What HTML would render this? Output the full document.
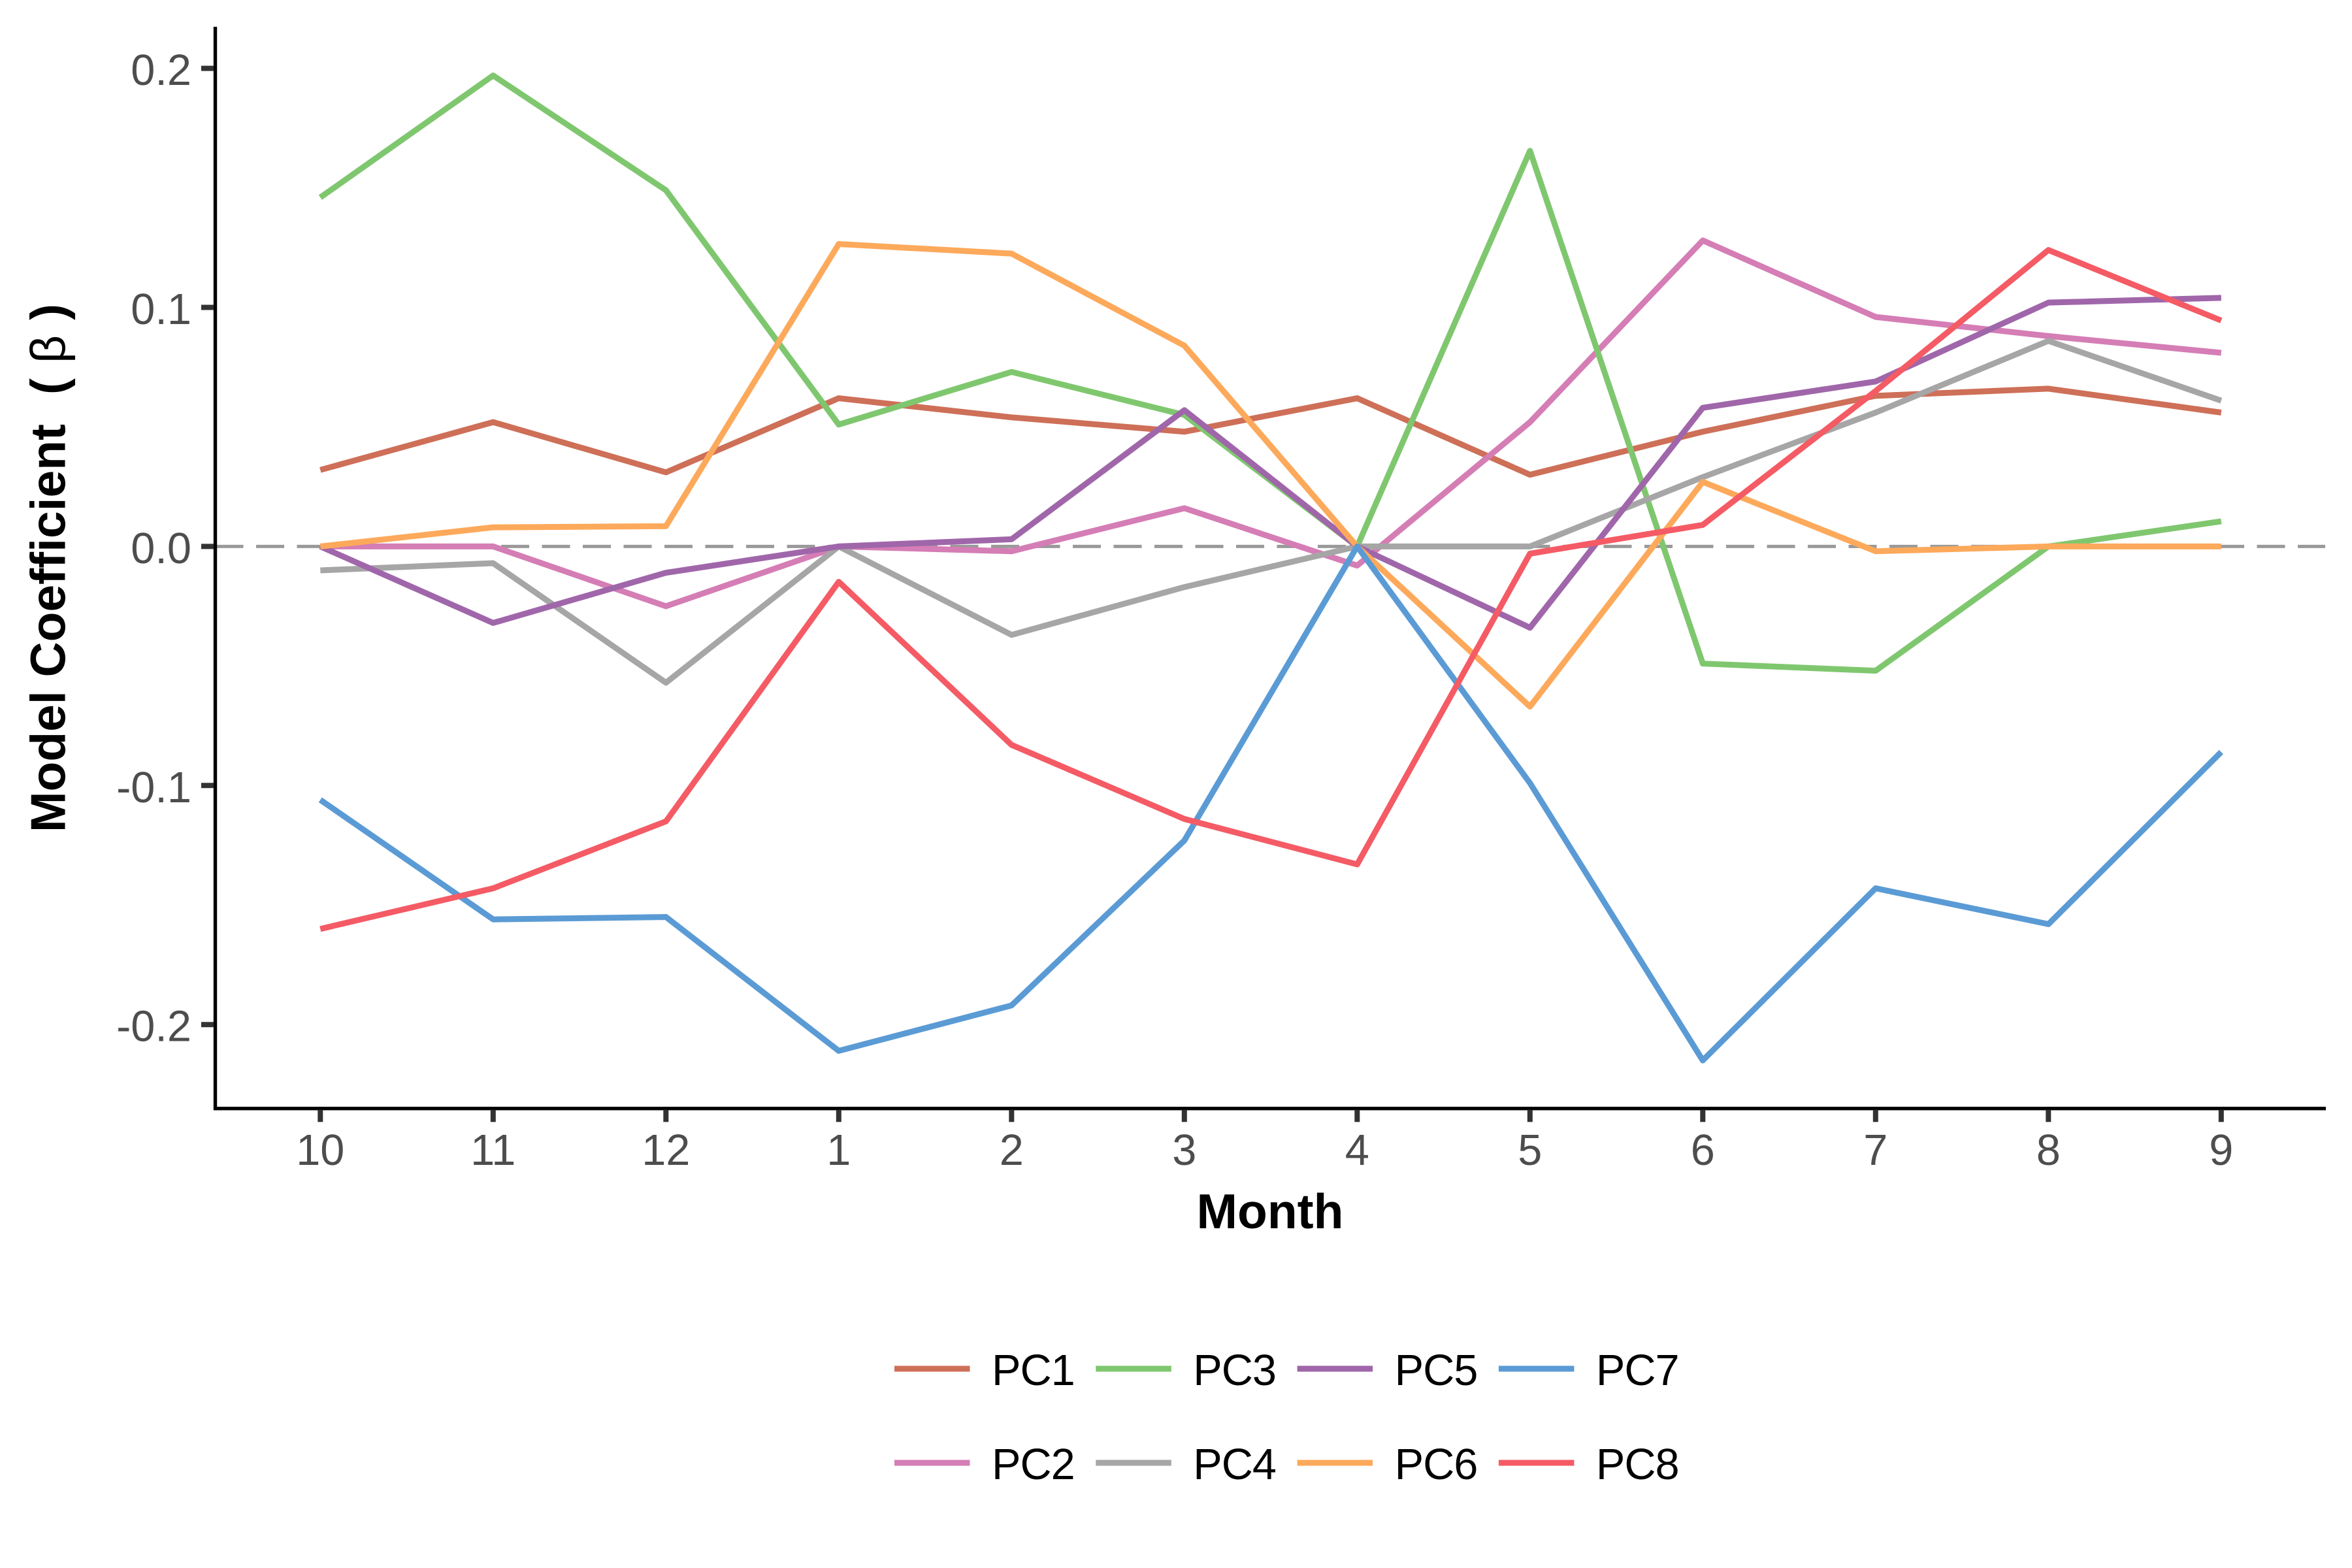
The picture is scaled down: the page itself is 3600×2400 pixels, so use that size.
<!DOCTYPE html>
<html lang="en">
<head>
<meta charset="utf-8">
<title>Model Coefficient by Month</title>
<style>
html,body{margin:0;padding:0;background:#fff;}
svg{display:block;font-family:"Liberation Sans","Noto Sans CJK SC",sans-serif;}
</style>
</head>
<body>
<svg id="chart" xmlns="http://www.w3.org/2000/svg" width="3600" height="2400" viewBox="0 0 3600 2400">
<rect x="0" y="0" width="3600" height="2400" fill="#ffffff"/>
<text transform="rotate(-90)" y="99.5" font-size="75" font-weight="700" fill="#000000"><tspan x="-1274">Model Coefficient</tspan><tspan x="-604">(</tspan><tspan x="-556" font-weight="400">β</tspan><tspan x="-490">)</tspan></text>
<text x="1944" y="1880" font-size="75" font-weight="700" text-anchor="middle" fill="#000000">Month</text>
</svg>
<script>
const months = ["10","11","12","1","2","3","4","5","6","7","8","9"];
const yTickValues = [0.2,0.1,0,-0.1,-0.2];
const yTickLabels = ["0.2","0.1","0.0","-0.1","-0.2"];
const seriesNames = ["PC1","PC2","PC3","PC4","PC5","PC6","PC7","PC8"];
const seriesColors = ["#CE6F58","#D57DB5","#7FC76F","#A6A6A6","#A066AA","#FDA95B","#5B9BD5","#F45B65"];
const pc1 = [0.032,0.052,0.031,0.062,0.054,0.048,0.062,0.030,0.048,0.063,0.066,0.056];
const pc2 = [0,0,-0.025,0,-0.002,0.016,-0.008,0.052,0.128,0.096,0.088,0.081];
const pc3 = [0.146,0.197,0.149,0.051,0.073,0.055,0,0.1655,-0.049,-0.052,0,0.0105];
const pc4 = [-0.010,-0.007,-0.057,0,-0.037,-0.017,0,0,0.029,0.056,0.086,0.061];
const pc5 = [0,-0.032,-0.011,0,0.003,0.057,0,-0.034,0.058,0.069,0.102,0.104];
const pc6 = [0,0.008,0.0085,0.1265,0.1225,0.084,0,-0.067,0.027,-0.002,0,0];
const pc7 = [-0.106,-0.156,-0.155,-0.211,-0.192,-0.123,0,-0.099,-0.215,-0.143,-0.158,-0.086];
const pc8 = [-0.160,-0.143,-0.115,-0.0148,-0.083,-0.114,-0.133,-0.003,0.009,0.065,0.124,0.0945];
const allSeries = [pc1,pc2,pc3,pc4,pc5,pc6,pc7,pc8];

const svg = document.getElementById('chart');
const NS = 'http://www.w3.org/2000/svg';
const panel = {left:329.5, right:3559, top:41, bottom:1696.7};
function xScale(i){ return 490.3 + i * 264.5; }
function yScale(v){ return 836.4 - v * 3659; }
function make(tag, attrs, text){
  const el = document.createElementNS(NS, tag);
  for (const k in attrs) el.setAttribute(k, attrs[k]);
  if (text !== undefined) el.textContent = text;
  svg.appendChild(el);
  return el;
}

const zero = make('line',{x1:panel.left,x2:panel.right,y1:yScale(0),y2:yScale(0),stroke:'#999999','stroke-width':5,'stroke-dasharray':'43 19.5'});



allSeries.forEach(function(values, s){
  const pts = values.map(function(v, i){ return xScale(i).toFixed(2) + ',' + yScale(v).toFixed(2); }).join(' ');
  const line = make('polyline',{points:pts,fill:'none',stroke:seriesColors[s],'stroke-width':9,'stroke-linejoin':'round','stroke-linecap':'butt'});
  
  
});

const yAxis = make('line',{x1:panel.left,x2:panel.left,y1:panel.top,y2:panel.bottom+2.7,stroke:'#000000','stroke-width':5.4});


const xAxis = make('line',{x1:panel.left,x2:3560,y1:panel.bottom,y2:panel.bottom,stroke:'#000000','stroke-width':5.4});



yTickValues.forEach(function(v, i){
  const t = make('line',{x1:308,x2:327,y1:yScale(v),y2:yScale(v),stroke:'#333333','stroke-width':8});
  
  
  const l = make('text',{x:293,y:yScale(v)+25.5,'font-size':66.7,'text-anchor':'end',fill:'#4d4d4d'},yTickLabels[i]);
  
  
});

months.forEach(function(m, i){
  const t = make('line',{x1:xScale(i),x2:xScale(i),y1:panel.bottom+2,y2:1717.3,stroke:'#333333','stroke-width':8});
  
  
  const l = make('text',{x:xScale(i),y:1783,'font-size':66.7,'text-anchor':'middle',fill:'#4d4d4d'},m);
  
  
});

seriesNames.forEach(function(name, s){
  const col = Math.floor(s / 2);
  const row = s % 2;
  const keyX = 1369 + col * 308.3;
  const keyY = 2095 + row * 144;
  const key = make('line',{x1:keyX,x2:keyX+115.5,y1:keyY,y2:keyY,stroke:seriesColors[s],'stroke-width':9});
  
  
  const label = make('text',{x:keyX+149,y:keyY+25,'font-size':66.7,'letter-spacing':-1,fill:'#000000'},name);
  
  
});
</script>
</body>
</html>
